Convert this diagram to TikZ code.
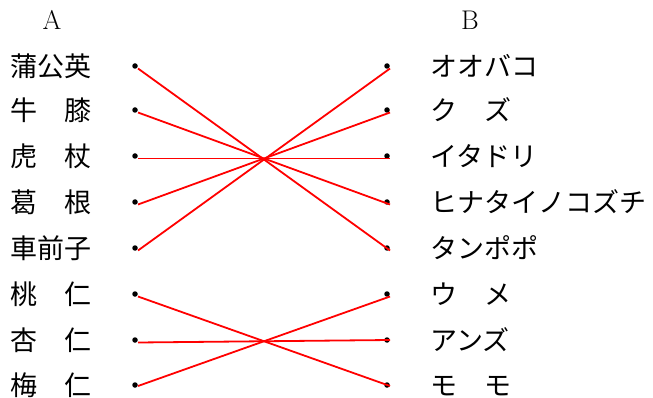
\documentclass[tikz,border=0pt]{standalone}
\usepackage{fontspec}
\newfontfamily\jpfont{Noto Sans CJK JP}
\usetikzlibrary{positioning}
\definecolor{linkred}{HTML}{FF0000}

\begin{document}
\begin{tikzpicture}[
 x=1pt,y=-1pt,
 herb/.style={font=\jpfont\fontsize{27}{27}\selectfont,anchor=west,inner sep=0pt,text height=23.8pt,text depth=3.2pt},
 head/.style={font=\fontsize{27}{27}\selectfont,inner sep=0pt},
 dot/.style={circle,fill=black,inner sep=0pt,minimum size=5.5pt},
 link/.style={draw=linkred,line width=1.8pt},
]
\useasboundingbox (0,0) rectangle (653,398);
\node[head] (ha) at (52,20) {A};
\node[head] (hb) at (470,20) {B};
% column A
\node[herb] (a1) at (10,66) {蒲公英};
\node[herb] (a2) at (10,110) {牛　膝};
\node[herb] (a3) at (10,156) {虎　杖};
\node[herb] (a4) at (10,202) {葛　根};
\node[herb] (a5) at (10,248) {車前子};
\node[herb] (a6) at (10,294) {桃　仁};
\node[herb] (a7) at (10,340) {杏　仁};
\node[herb] (a8) at (10,385) {梅　仁};
% column B
\node[herb] (b1) at (430,66) {オオバコ};
\node[herb] (b2) at (430,110) {ク　ズ};
\node[herb] (b3) at (430,156) {イタドリ};
\node[herb] (b4) at (430,202) {ヒナタイノコズチ};
\node[herb] (b5) at (430,248) {タンポポ};
\node[herb] (b6) at (430,294) {ウ　メ};
\node[herb] (b7) at (430,340) {アンズ};
\node[herb] (b8) at (430,385) {モ　モ};
% dots
\node[dot] (p1) at (135,66) {};
\node[dot] (p2) at (135,110) {};
\node[dot] (p3) at (135,156) {};
\node[dot] (p4) at (135,202) {};
\node[dot] (p5) at (135,248) {};
\node[dot] (p6) at (135,294) {};
\node[dot] (p7) at (135,340) {};
\node[dot] (p8) at (135,385) {};
\node[dot] (q1) at (387,66) {};
\node[dot] (q2) at (387,110) {};
\node[dot] (q3) at (387,156) {};
\node[dot] (q4) at (387,202) {};
\node[dot] (q5) at (387,248) {};
\node[dot] (q6) at (387,294) {};
\node[dot] (q7) at (387,340) {};
\node[dot] (q8) at (387,385) {};
% answers
\draw[link] ([shift={(3pt,-2.5pt)}]p1.center) -- ([shift={(3pt,-2.5pt)}]q5.center);
\draw[link] ([shift={(3pt,-2.5pt)}]p2.center) -- ([shift={(3pt,-2.5pt)}]q4.center);
\draw[link] ([shift={(3pt,-2.5pt)}]p3.center) -- ([shift={(3pt,-2.5pt)}]q3.center);
\draw[link] ([shift={(3pt,-2.5pt)}]p4.center) -- ([shift={(3pt,-2.5pt)}]q2.center);
\draw[link] ([shift={(3pt,-2.5pt)}]p5.center) -- ([shift={(3pt,-2.5pt)}]q1.center);
\draw[link] ([shift={(3pt,-2.5pt)}]p6.center) -- ([shift={(3pt,-1pt)}]q8.center);
\draw[link] ([shift={(3pt,-2.5pt)}]p7.center) -- ([shift={(3pt,0pt)}]q7.center);
\draw[link] ([shift={(3pt,-1pt)}]p8.center) -- ([shift={(3pt,-2.5pt)}]q6.center);
\end{tikzpicture}
\end{document}
